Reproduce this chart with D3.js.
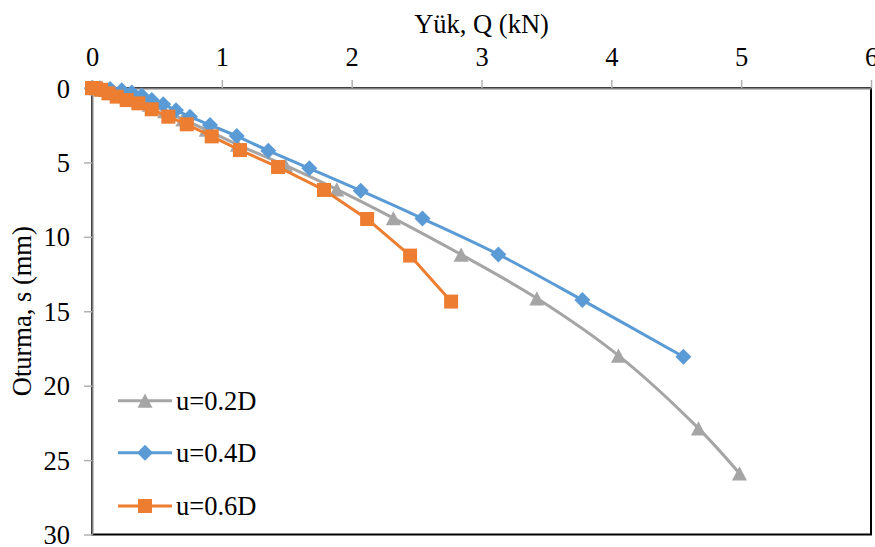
<!DOCTYPE html>
<html>
<head>
<meta charset="utf-8">
<script src="https://cdn.jsdelivr.net/npm/d3@7"></script>
<style>
  html, body { margin: 0; padding: 0; background: #fff; }
  svg text { font-family: "Liberation Serif", "Times New Roman", serif; fill: #000; }
</style>
</head>
<body>
<div id="chart"></div>
<script>
/* ===== Data ===== */
const seriesNames = ["u=0.2D", "u=0.4D", "u=0.6D"];

const q02 = [0, 0.05, 0.1, 0.17, 0.25, 0.34, 0.44, 0.56, 0.7, 0.88, 1.12, 1.49, 1.885, 2.321, 2.843, 3.426, 4.055, 4.671, 4.987];
const s02 = [0, 0.03, 0.12, 0.28, 0.5, 0.78, 1.12, 1.55, 2.1, 2.8, 3.8, 5.2, 6.81, 8.74, 11.19, 14.13, 17.98, 22.87, 25.9];

const q04 = [0, 0.06, 0.14, 0.229, 0.306, 0.383, 0.46, 0.549, 0.647, 0.755, 0.909, 1.115, 1.358, 1.674, 2.07, 2.545, 3.13, 3.777, 4.555];
const s04 = [0, 0.01, 0.06, 0.15, 0.3, 0.5, 0.8, 1.1, 1.5, 1.93, 2.49, 3.23, 4.21, 5.4, 6.9, 8.77, 11.18, 14.25, 18.06];

const q06 = [0, 0.03, 0.07, 0.126, 0.19, 0.267, 0.357, 0.46, 0.588, 0.73, 0.922, 1.14, 1.433, 1.787, 2.119, 2.45, 2.766];
const s06 = [0, 0.02, 0.12, 0.36, 0.58, 0.81, 1.03, 1.43, 1.93, 2.44, 3.25, 4.17, 5.31, 6.85, 8.8, 11.26, 14.35];

const xTicks = [0, 1, 2, 3, 4, 5, 6];
const yTicks = [0, 5, 10, 15, 20, 25, 30];

const xTitle = "Yük, Q (kN)";
const yTitle = "Oturma, s (mm)";

/* ===== Setup ===== */
const W = 875, H = 547;
const m = { left: 92, top: 88, right: 4, bottom: 12.5 };
const FONT = 26.5;

const svg = d3.select("#chart").append("svg")
  .attr("width", W).attr("height", H)
  .attr("viewBox", [0, 0, W, H]);

const x = d3.scaleLinear().domain([0, 6]).range([m.left, W - m.right]);
const y = d3.scaleLinear().domain([0, 30]).range([m.top, H - m.bottom]);

// plot area border (black), axes go over top/left
svg.append("rect")
  .attr("x", x(0)).attr("y", y(0))
  .attr("width", x(6) - x(0)).attr("height", y(30) - y(0))
  .attr("fill", "none")
  .attr("stroke", "#000")
  .attr("stroke-width", 2);

const xAxis = svg.append("g")
  .attr("transform", `translate(0,${y(0)})`)
  .call(d3.axisTop(x).tickValues(xTicks).tickFormat(d3.format("d")).tickSize(8).tickSizeOuter(0).tickPadding(14));

const yAxis = svg.append("g")
  .attr("transform", `translate(${x(0)},0)`)
  .call(d3.axisLeft(y).tickValues(yTicks).tickFormat(d3.format("d")).tickSize(8).tickSizeOuter(0).tickPadding(14));

[xAxis, yAxis].forEach(g => {
  g.select(".domain").attr("stroke", "#808080").attr("stroke-width", 2);
  g.selectAll(".tick line").attr("stroke", "#B0B0B0").attr("stroke-width", 1.5);
  g.selectAll(".tick text")
    .attr("font-size", FONT)
    .style("font-family", '"Liberation Serif", "Times New Roman", serif')
    .attr("fill", "#000");
});
yAxis.selectAll(".tick text").attr("dy", "0.34em");

svg.append("text")
  .attr("x", (x(0) + x(6)) / 2).attr("y", 33)
  .attr("text-anchor", "middle")
  .attr("font-size", FONT)
  .text(xTitle);

svg.append("text")
  .attr("transform", `translate(31,${(y(0) + y(30)) / 2}) rotate(-90)`)
  .attr("text-anchor", "middle")
  .attr("font-size", FONT)
  .text(yTitle);

/* ===== Series ===== */
function tri(sz) {
  const h = sz * 0.95;
  return `M0,${-h / 2} L${sz / 2},${h / 2} L${-sz / 2},${h / 2} Z`;
}
function diamond(sz) {
  const r = sz / 2;
  return `M0,${-r} L${r},0 L0,${r} L${-r},0 Z`;
}
function square(sz) {
  const r = sz / 2;
  return `M${-r},${-r} H${r} V${r} H${-r} Z`;
}

const series = [
  { name: seriesNames[0], q: q02, s: s02, color: "#A5A5A5", marker: () => tri(15), curve: d3.curveCatmullRom.alpha(0.5) },
  { name: seriesNames[1], q: q04, s: s04, color: "#5B9BD5", marker: () => diamond(16), curve: d3.curveCatmullRom.alpha(0.5) },
  { name: seriesNames[2], q: q06, s: s06, color: "#ED7D31", marker: () => square(14), curve: d3.curveLinear },
];

series.forEach(sr => {
  const pts = sr.q.map((v, i) => [v, sr.s[i]]);
  const g = svg.append("g");
  g.append("path")
    .attr("d", d3.line().x(d => x(d[0])).y(d => y(d[1])).curve(sr.curve)(pts))
    .attr("fill", "none")
    .attr("stroke", sr.color)
    .attr("stroke-width", 3)
    .attr("stroke-linejoin", "round");
  g.selectAll("path.mk")
    .data(pts)
    .join("path")
    .attr("class", "mk")
    .attr("transform", d => `translate(${x(d[0])},${y(d[1])})`)
    .attr("d", sr.marker())
    .attr("fill", sr.color);
});

/* ===== Legend ===== */
const legendY = [400.7, 452.7, 506];
series.forEach((sr, i) => {
  const g = svg.append("g").attr("transform", `translate(0,${legendY[i]})`);
  g.append("line")
    .attr("x1", 118).attr("x2", 172)
    .attr("stroke", sr.color).attr("stroke-width", 3);
  g.append("path")
    .attr("transform", "translate(145,0)")
    .attr("d", sr.marker())
    .attr("fill", sr.color);
  g.append("text")
    .attr("x", 176).attr("dy", "0.34em")
    .attr("font-size", FONT)
    .text(sr.name);
});
</script>
</body>
</html>
